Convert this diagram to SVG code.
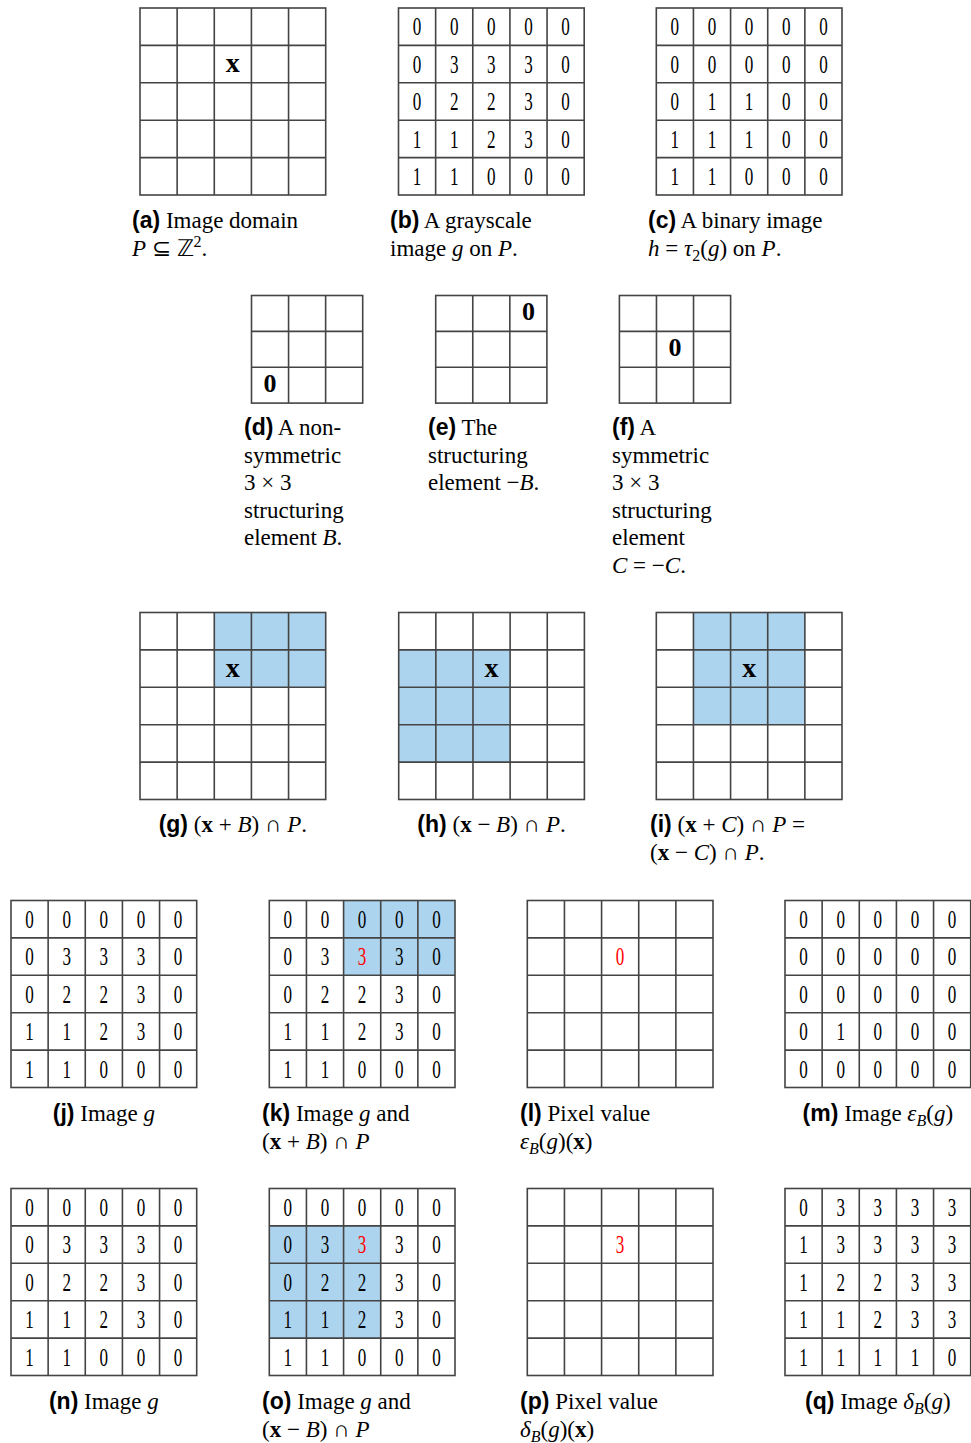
<svg xmlns="http://www.w3.org/2000/svg" width="971" height="1443" viewBox="0 0 971 1443">
<style>
.cap{font-family:"Liberation Serif","Times New Roman",serif;font-size:23px;fill:#000}
.mid{text-anchor:middle}
.lb{font-family:"Liberation Sans",Arial,sans-serif;font-weight:bold}
.i{font-style:italic}
.b{font-weight:bold}
.num{font-family:"Liberation Serif","Times New Roman",serif;font-size:25.5px;fill:#000}
.mk{font-family:"Liberation Serif","Times New Roman",serif;font-size:26px;font-weight:bold;text-anchor:middle;fill:#000}
.mx{font-size:28px}
.blue{fill:#acd4ee}
.red{fill:#f00}
.sub{font-size:16px}
</style>
<defs>
<g id="grid5" fill="none" stroke="#444" stroke-width="1.6">
<rect x="0" y="0" width="185.7" height="187"/>
<path d="M37.14 0V187M74.28 0V187M111.42 0V187M148.56 0V187M0 37.4H185.7M0 74.8H185.7M0 112.2H185.7M0 149.6H185.7"/>
</g>
<g id="grid3" fill="none" stroke="#444" stroke-width="1.6">
<rect x="0" y="0" width="111.2" height="107.6"/>
<path d="M37.07 0V107.6M74.13 0V107.6M0 35.87H111.2M0 71.73H111.2"/>
</g>
</defs>
<rect width="971" height="1443" fill="#fff"/>

<g id="fig-a">
<use href="#grid5" x="140" y="8"/>
<text class="mk mx" x="232.85" y="72">x</text>
<text class="cap" x="132" y="228"><tspan class="lb">(a)</tspan> Image domain</text>
<text class="cap" x="132" y="256"><tspan class="i">P</tspan> ⊆ ℤ<tspan class="sub" dy="-9">2</tspan><tspan dy="9">.</tspan></text>
</g>

<g id="fig-b">
<use href="#grid5" x="398.5" y="8"/>
<g class="num" transform="translate(398.5 8) scale(0.67 1)">
<text x="21.3 76.7 132.2 187.6 243.1" y="27.5">00000</text>
<text x="21.3 76.7 132.2 187.6 243.1" y="64.9">03330</text>
<text x="21.3 76.7 132.2 187.6 243.1" y="102.3">02230</text>
<text x="21.3 76.7 132.2 187.6 243.1" y="139.7">11230</text>
<text x="21.3 76.7 132.2 187.6 243.1" y="177.1">11000</text>
</g>
<text class="cap" x="390" y="228"><tspan class="lb">(b)</tspan> A grayscale</text>
<text class="cap" x="390" y="256">image <tspan class="i">g</tspan> on <tspan class="i">P</tspan>.</text>
</g>

<g id="fig-c">
<use href="#grid5" x="656.3" y="8"/>
<g class="num" transform="translate(656.3 8) scale(0.67 1)">
<text x="21.3 76.7 132.2 187.6 243.1" y="27.5">00000</text>
<text x="21.3 76.7 132.2 187.6 243.1" y="64.9">00000</text>
<text x="21.3 76.7 132.2 187.6 243.1" y="102.3">01100</text>
<text x="21.3 76.7 132.2 187.6 243.1" y="139.7">11100</text>
<text x="21.3 76.7 132.2 187.6 243.1" y="177.1">11000</text>
</g>
<text class="cap" x="648" y="228"><tspan class="lb">(c)</tspan> A binary image</text>
<text class="cap" x="648" y="256"><tspan class="i">h</tspan> = <tspan class="i">τ</tspan><tspan class="sub" dy="5">2</tspan><tspan dy="-5">(</tspan><tspan class="i">g</tspan>) on <tspan class="i">P</tspan>.</text>
</g>

<g id="fig-d">
<use href="#grid3" x="251.5" y="295.5"/>
<text class="mk" x="270" y="391.9">0</text>
<text class="cap" x="244" y="435"><tspan class="lb">(d)</tspan> A non-</text>
<text class="cap" x="244" y="462.5">symmetric</text>
<text class="cap" x="244" y="490">3 × 3</text>
<text class="cap" x="244" y="517.5">structuring</text>
<text class="cap" x="244" y="545">element <tspan class="i">B</tspan>.</text>
</g>

<g id="fig-e">
<use href="#grid3" x="435.7" y="295.5"/>
<text class="mk" x="528.4" y="320.2">0</text>
<text class="cap" x="428" y="435"><tspan class="lb">(e)</tspan> The</text>
<text class="cap" x="428" y="462.5">structuring</text>
<text class="cap" x="428" y="490">element −<tspan class="i">B</tspan>.</text>
</g>

<g id="fig-f">
<use href="#grid3" x="619.4" y="295.5"/>
<text class="mk" x="675" y="356.1">0</text>
<text class="cap" x="612" y="435"><tspan class="lb">(f)</tspan> A</text>
<text class="cap" x="612" y="462.5">symmetric</text>
<text class="cap" x="612" y="490">3 × 3</text>
<text class="cap" x="612" y="517.5">structuring</text>
<text class="cap" x="612" y="545">element</text>
<text class="cap" x="612" y="572.5"><tspan class="i">C</tspan> = −<tspan class="i">C</tspan>.</text>
</g>

<g id="fig-g">
<rect class="blue" x="214.28" y="612.5" width="111.42" height="74.8"/>
<use href="#grid5" x="140" y="612.5"/>
<text class="mk mx" x="232.85" y="676.6">x</text>
<text class="cap mid" x="232.85" y="832"><tspan class="lb">(g)</tspan> (<tspan class="b">x</tspan> + <tspan class="i">B</tspan>) ∩ <tspan class="i">P</tspan>.</text>
</g>

<g id="fig-h">
<rect class="blue" x="398.7" y="649.9" width="111.42" height="112.2"/>
<use href="#grid5" x="398.7" y="612.5"/>
<text class="mk mx" x="491.55" y="676.6">x</text>
<text class="cap mid" x="491.55" y="832"><tspan class="lb">(h)</tspan> (<tspan class="b">x</tspan> − <tspan class="i">B</tspan>) ∩ <tspan class="i">P</tspan>.</text>
</g>

<g id="fig-i">
<rect class="blue" x="693.44" y="612.5" width="111.42" height="112.2"/>
<use href="#grid5" x="656.3" y="612.5"/>
<text class="mk mx" x="749.15" y="676.6">x</text>
<text class="cap" x="650" y="832"><tspan class="lb">(i)</tspan> (<tspan class="b">x</tspan> + <tspan class="i">C</tspan>) ∩ <tspan class="i">P</tspan> =</text>
<text class="cap" x="650" y="860">(<tspan class="b">x</tspan> − <tspan class="i">C</tspan>) ∩ <tspan class="i">P</tspan>.</text>
</g>

<g id="fig-j">
<use href="#grid5" x="11" y="900.5"/>
<g class="num" transform="translate(11 900.5) scale(0.67 1)">
<text x="21.3 76.7 132.2 187.6 243.1" y="27.5">00000</text>
<text x="21.3 76.7 132.2 187.6 243.1" y="64.9">03330</text>
<text x="21.3 76.7 132.2 187.6 243.1" y="102.3">02230</text>
<text x="21.3 76.7 132.2 187.6 243.1" y="139.7">11230</text>
<text x="21.3 76.7 132.2 187.6 243.1" y="177.1">11000</text>
</g>
<text class="cap mid" x="103.85" y="1121"><tspan class="lb">(j)</tspan> Image <tspan class="i">g</tspan></text>
</g>

<g id="fig-k">
<rect class="blue" x="343.58" y="900.5" width="111.42" height="74.8"/>
<use href="#grid5" x="269.3" y="900.5"/>
<g class="num" transform="translate(269.3 900.5) scale(0.67 1)">
<text x="21.3 76.7 132.2 187.6 243.1" y="27.5">00000</text>
<text x="21.3 76.7 132.2 187.6 243.1" y="64.9">03<tspan class="red">3</tspan>30</text>
<text x="21.3 76.7 132.2 187.6 243.1" y="102.3">02230</text>
<text x="21.3 76.7 132.2 187.6 243.1" y="139.7">11230</text>
<text x="21.3 76.7 132.2 187.6 243.1" y="177.1">11000</text>
</g>
<text class="cap" x="262" y="1121"><tspan class="lb">(k)</tspan> Image <tspan class="i">g</tspan> and</text>
<text class="cap" x="262" y="1149">(<tspan class="b">x</tspan> + <tspan class="i">B</tspan>) ∩ <tspan class="i">P</tspan></text>
</g>

<g id="fig-l">
<use href="#grid5" x="527.3" y="900.5"/>
<g class="num" transform="translate(527.3 900.5) scale(0.67 1)">
<text class="red" x="132.2" y="64.9">0</text>
</g>
<text class="cap" x="520" y="1121"><tspan class="lb">(l)</tspan> Pixel value</text>
<text class="cap" x="520" y="1149"><tspan class="i">ε</tspan><tspan class="i sub" dy="5">B</tspan><tspan dy="-5">(</tspan><tspan class="i">g</tspan>)(<tspan class="b">x</tspan>)</text>
</g>

<g id="fig-m">
<use href="#grid5" x="785" y="900.5"/>
<g class="num" transform="translate(785 900.5) scale(0.67 1)">
<text x="21.3 76.7 132.2 187.6 243.1" y="27.5">00000</text>
<text x="21.3 76.7 132.2 187.6 243.1" y="64.9">00000</text>
<text x="21.3 76.7 132.2 187.6 243.1" y="102.3">00000</text>
<text x="21.3 76.7 132.2 187.6 243.1" y="139.7">01000</text>
<text x="21.3 76.7 132.2 187.6 243.1" y="177.1">00000</text>
</g>
<text class="cap mid" x="877.85" y="1121"><tspan class="lb">(m)</tspan> Image <tspan class="i">ε</tspan><tspan class="i sub" dy="5">B</tspan><tspan dy="-5">(</tspan><tspan class="i">g</tspan>)</text>
</g>

<g id="fig-n">
<use href="#grid5" x="11" y="1188.5"/>
<g class="num" transform="translate(11 1188.5) scale(0.67 1)">
<text x="21.3 76.7 132.2 187.6 243.1" y="27.5">00000</text>
<text x="21.3 76.7 132.2 187.6 243.1" y="64.9">03330</text>
<text x="21.3 76.7 132.2 187.6 243.1" y="102.3">02230</text>
<text x="21.3 76.7 132.2 187.6 243.1" y="139.7">11230</text>
<text x="21.3 76.7 132.2 187.6 243.1" y="177.1">11000</text>
</g>
<text class="cap mid" x="103.85" y="1409"><tspan class="lb">(n)</tspan> Image <tspan class="i">g</tspan></text>
</g>

<g id="fig-o">
<rect class="blue" x="269.3" y="1225.9" width="111.42" height="112.2"/>
<use href="#grid5" x="269.3" y="1188.5"/>
<g class="num" transform="translate(269.3 1188.5) scale(0.67 1)">
<text x="21.3 76.7 132.2 187.6 243.1" y="27.5">00000</text>
<text x="21.3 76.7 132.2 187.6 243.1" y="64.9">03<tspan class="red">3</tspan>30</text>
<text x="21.3 76.7 132.2 187.6 243.1" y="102.3">02230</text>
<text x="21.3 76.7 132.2 187.6 243.1" y="139.7">11230</text>
<text x="21.3 76.7 132.2 187.6 243.1" y="177.1">11000</text>
</g>
<text class="cap" x="262" y="1409"><tspan class="lb">(o)</tspan> Image <tspan class="i">g</tspan> and</text>
<text class="cap" x="262" y="1437">(<tspan class="b">x</tspan> − <tspan class="i">B</tspan>) ∩ <tspan class="i">P</tspan></text>
</g>

<g id="fig-p">
<use href="#grid5" x="527.3" y="1188.5"/>
<g class="num" transform="translate(527.3 1188.5) scale(0.67 1)">
<text class="red" x="132.2" y="64.9">3</text>
</g>
<text class="cap" x="520" y="1409"><tspan class="lb">(p)</tspan> Pixel value</text>
<text class="cap" x="520" y="1437"><tspan class="i">δ</tspan><tspan class="i sub" dy="5">B</tspan><tspan dy="-5">(</tspan><tspan class="i">g</tspan>)(<tspan class="b">x</tspan>)</text>
</g>

<g id="fig-q">
<use href="#grid5" x="785" y="1188.5"/>
<g class="num" transform="translate(785 1188.5) scale(0.67 1)">
<text x="21.3 76.7 132.2 187.6 243.1" y="27.5">03333</text>
<text x="21.3 76.7 132.2 187.6 243.1" y="64.9">13333</text>
<text x="21.3 76.7 132.2 187.6 243.1" y="102.3">12233</text>
<text x="21.3 76.7 132.2 187.6 243.1" y="139.7">11233</text>
<text x="21.3 76.7 132.2 187.6 243.1" y="177.1">11110</text>
</g>
<text class="cap mid" x="877.85" y="1409"><tspan class="lb">(q)</tspan> Image <tspan class="i">δ</tspan><tspan class="i sub" dy="5">B</tspan><tspan dy="-5">(</tspan><tspan class="i">g</tspan>)</text>
</g>

<g id="connectors"></g>
</svg>
